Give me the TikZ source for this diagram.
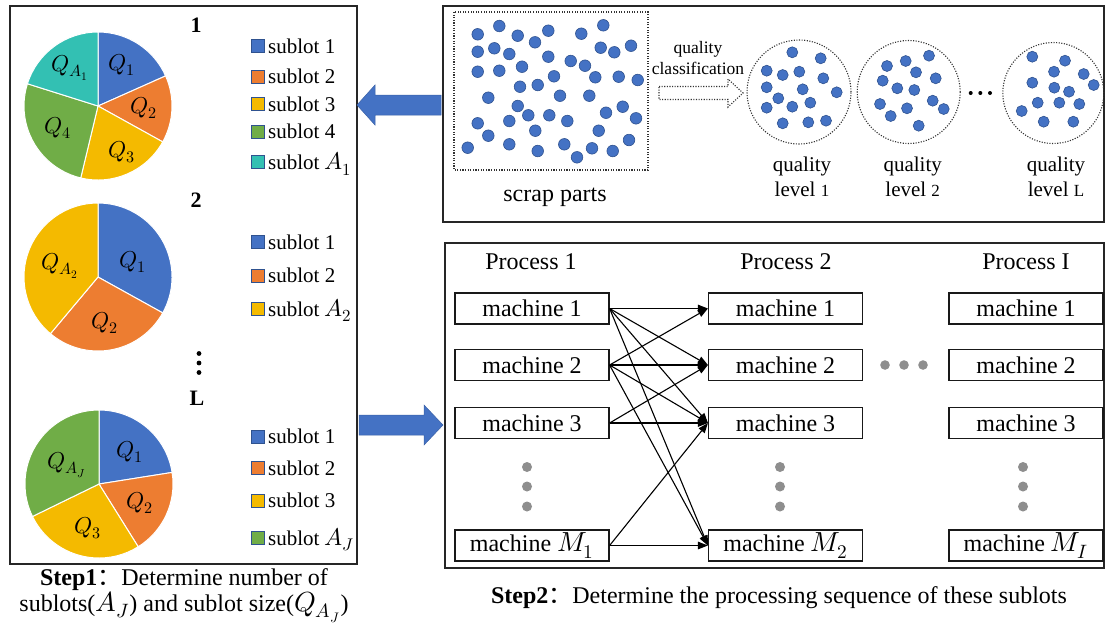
\documentclass[tikz,border=0pt]{standalone}
\usepackage{fontspec}
\usepackage{unicode-math}
\setmainfont{Liberation Serif}
\setmathfont{Latin Modern Math}[Scale=1.15]
\newfontfamily\cjk{Noto Sans CJK SC}
\usetikzlibrary{arrows.meta}

\definecolor{qblue}{HTML}{4472C4}
\definecolor{qorange}{HTML}{ED7D31}
\definecolor{qgold}{HTML}{F4BA00}
\definecolor{qgreen}{HTML}{70AD47}
\definecolor{qteal}{HTML}{33C0B3}
\definecolor{qedge}{HTML}{2F528F}
\definecolor{dotgray}{HTML}{8E8E8E}

\tikzset{
  panel/.style={draw=black!85, line width=1.4pt},
  slice/.style={draw=white, line width=1pt},
  key/.style={draw=qedge, line width=0.9pt, minimum size=13pt, inner sep=0pt},
  keytext/.style={anchor=base west, inner sep=0pt, font=\fontsize{21}{25}\selectfont},
  title/.style={inner sep=0pt, font=\fontsize{22}{26}\selectfont\bfseries},
  qlab/.style={inner sep=0pt, font=\fontsize{20}{24}\selectfont},
  part/.style={fill=qblue, draw=qedge, line width=0.6pt},
  ring/.style={draw=black!80, line width=1.1pt, dash pattern=on 1.1pt off 1.5pt},
  lvl/.style={inner sep=0pt, align=center, font=\fontsize{21}{25}\selectfont},
  machine/.style={draw=black!90, line width=1.2pt, minimum width=154pt, minimum height=31pt,
    inner sep=0pt, font=\fontsize{24}{28}\selectfont},
  header/.style={inner sep=0pt, font=\fontsize{24}{28}\selectfont},
  link/.style={line width=1.1pt, -{Triangle[length=10pt,width=7.5pt]}},
  vdot/.style={fill=dotgray},
  blockarrow/.style={fill=qblue, draw=qblue!85!black, line width=0.5pt},
  caption/.style={anchor=base, inner sep=0pt, font=\fontsize{24}{28}\selectfont},
}

\begin{document}
\begin{tikzpicture}[x=1pt, y=1pt]
\useasboundingbox (0,0) rectangle (1105,-625);

% ---------- left panel: sublot sizes per quality level ----------
\draw[panel] (10,-6) rectangle (357,-564);

% level 1
\node[title] (t1) at (196,-25) {1};
\foreach \a/\b/\c in {24/90/qblue, -29/24/qorange, -103.5/-29/qgold, 162.5/256.5/qgreen, 90/162.5/qteal}
  \filldraw[slice, fill=\c] (98,-106) -- ++(\a:74) arc[start angle=\a, end angle=\b, radius=74] -- cycle;
\node[qlab] (p1q1) at (122,-65) {$Q_1$};
\node[qlab] (p1q2) at (144,-108) {$Q_2$};
\node[qlab] (p1q3) at (122,-152) {$Q_3$};
\node[qlab] (p1q4) at (58,-128) {$Q_4$};
\node[qlab] (p1qa) at (70,-68) {$Q_{A_1}$};
\foreach \n/\y/\c/\t in {1/46.3/qblue/{sublot 1}, 2/76.7/qorange/{sublot 2}, 3/104.3/qgold/{sublot 3},
    4/131.7/qgreen/{sublot 4}, 5/162.3/qteal/{sublot $A_1$}} {
  \node[key, fill=\c] (k1\n) at (258,-\y) {};
  \node[keytext] (l1\n) at (268,-\y-7) {\t};
}

% level 2
\node[title] (t2) at (196,-200) {2};
\foreach \a/\b/\c in {-29/90/qblue, -130/-29/qorange, 90/230/qgold}
  \filldraw[slice, fill=\c] (98,-277) -- ++(\a:74) arc[start angle=\a, end angle=\b, radius=74] -- cycle;
\node[qlab] (p2q1) at (133,-262) {$Q_1$};
\node[qlab] (p2q2) at (105,-323) {$Q_2$};
\node[qlab] (p2qa) at (60,-266) {$Q_{A_2}$};
\foreach \n/\y/\c/\t in {1/242.3/qblue/{sublot 1}, 2/275.7/qorange/{sublot 2}, 3/309/qgold/{sublot $A_2$}} {
  \node[key, fill=\c] (k2\n) at (258,-\y) {};
  \node[keytext] (l2\n) at (268,-\y-7) {\t};
}

% vertical ellipsis
\foreach \y in {353.5, 363, 372.5}
  \fill (199,-\y) circle (2.4);

% level L
\node[title] (tL) at (197,-398) {L};
\foreach \a/\b/\c in {9/90/qblue, -58/9/qorange, -154/-58/qgold, 90/206/qgreen}
  \filldraw[slice, fill=\c] (99,-484) -- ++(\a:74) arc[start angle=\a, end angle=\b, radius=74] -- cycle;
\node[qlab] (p3q1) at (130,-452) {$Q_1$};
\node[qlab] (p3q2) at (140,-503) {$Q_2$};
\node[qlab] (p3q3) at (88,-528) {$Q_3$};
\node[qlab] (p3qa) at (67,-465) {$Q_{A_J}$};
\foreach \n/\y/\c/\t in {1/436.7/qblue/{sublot 1}, 2/468.3/qorange/{sublot 2}, 3/500.7/qgold/{sublot 3},
    4/538/qgreen/{sublot $A_J$}} {
  \node[key, fill=\c] (k3\n) at (258,-\y) {};
  \node[keytext] (l3\n) at (268,-\y-7) {\t};
}

\node[caption] (cap1a) at (184,-585) {\textbf{Step1}{\cjk ：}Determine number of};
\node[caption] (cap1b) at (184,-611) {sublots($A_J$) and sublot size($Q_{A_J}$)};

% ---------- block arrows between the panels ----------
\filldraw[blockarrow] (357,-105) -- (375,-85) -- (375,-95) -- (441,-95) -- (441,-115)
  -- (375,-115) -- (375,-125) -- cycle;
\filldraw[blockarrow] (359,-415) -- (424,-415) -- (424,-405) -- (443,-425) -- (424,-445)
  -- (424,-435) -- (359,-435) -- cycle;

% ---------- top right panel: quality classification ----------
\draw[panel] (443,-6) rectangle (1104,-222);
\draw[ring] (454,-12) rectangle (648,-170);
\foreach \x/\y in {477.7/34.3, 499.3/26, 517.7/35.7, 548.3/30.7, 581.3/33.7, 603.3/25.3,
    477.7/51.7, 494.3/48.3, 509.3/54, 535/42.3, 600.7/47.7, 614.3/52.3, 631/45.7,
    477.7/71.7, 499.3/70.7, 522/66.7, 548.3/56.7, 570.7/61, 585/65.7, 595.3/77.3, 618.7/76.7, 637.7/80,
    520/86.7, 537.7/85, 554/76.3, 488.3/97.7, 560/95.7, 589.3/95.7,
    517.7/106, 528.3/115.3, 549.3/115.3, 567.3/121, 606/112.7, 622.7/106.7, 636/118.3,
    477.7/123.3, 509.3/121, 535.3/130.7, 598.7/130.7,
    488.3/135.7, 467.7/147.7, 509.3/144.3, 537.7/151, 564.3/144.3, 577/157.3, 592/148.3, 612.7/151, 629/140}
  \filldraw[part] (\x,-\y) circle (5.8);
\node[inner sep=0pt, font=\fontsize{24}{28}\selectfont] (scrap) at (555,-197) {scrap parts};

\node[inner sep=0pt, align=center, font=\fontsize{17.5}{21}\selectfont] (qc) at (698,-58)
  {quality\\classification};
\draw[ring] (659,-86.5) -- (728,-86.5) -- (728,-79) -- (743,-93) -- (728,-107) -- (728,-99.5)
  -- (659,-99.5) -- cycle;

% quality levels
\draw[ring] (799,-92) circle (52);
\foreach \x/\y in {792.3/52.3, 820.7/58.3, 766.7/70.7, 782.7/75, 799.3/71.7, 823.3/78.3, 766.7/87.3,
    802.7/89.3, 836.7/92.3, 778.3/98.3, 792.3/106.7, 810.3/102.7, 766.7/107.7, 782.7/123.3,
    808.3/122.3, 826/120.7}
  \filldraw[part] (\x,-\y) circle (5.5);
\draw[ring] (908.7,-92) circle (51.5);
\foreach \x/\y in {929/55.7, 887/66, 905.7/61, 916/72.3, 935.7/78.3, 882.7/80.7, 897.3/88.3,
    914.3/90, 880/104, 907/108.3, 932.7/100.7, 943.7/109, 890.7/116, 918.7/125.7}
  \filldraw[part] (\x,-\y) circle (5.5);
\draw[ring] (1053.3,-93) circle (50.5);
\foreach \x/\y in {1032.3/56.7, 1065/60.7, 1054/71.7, 1083.7/74, 1093.7/85, 1032.3/82.7, 1054.3/87.7,
    1069/91.7, 1037.7/102.7, 1059.3/102.7, 1079.3/104, 1021.7/111, 1043.7/121.7, 1073.3/121.7}
  \filldraw[part] (\x,-\y) circle (5.5);
\foreach \x in {970.7, 980.3, 990}
  \fill (\x,-93) circle (2);

\node[lvl] (lv1) at (802,-177) {quality\\level {\fontsize{17}{20}\selectfont 1}};
\node[lvl] (lv2) at (912.7,-177) {quality\\level {\fontsize{17}{20}\selectfont 2}};
\node[lvl] (lvL) at (1056,-177) {quality\\level {\fontsize{17}{20}\selectfont L}};

% ---------- bottom right panel: machines in each process ----------
\draw[panel] (445,-243) rectangle (1104,-568);
\node[header] (h1) at (531,-262) {Process 1};
\node[header] (h2) at (786,-262) {Process 2};
\node[header] (h3) at (1026,-262) {Process I};

\foreach \c/\x/\s in {a/532/1, b/785.5/2, c/1026/I} {
  \node[machine] (\c1) at (\x,-308.5) {machine 1};
  \node[machine] (\c2) at (\x,-365) {machine 2};
  \node[machine] (\c3) at (\x,-423) {machine 3};
  \node[machine] (\c4) at (\x,-545.5) {machine $M_\s$};
}
\foreach \x in {527, 780, 1023}
  \foreach \y in {467, 486.5, 506.5}
    \fill[vdot] (\x,-\y) circle (5);
\foreach \x in {885, 904, 923}
  \fill[vdot] (\x,-365) circle (4.8);

\foreach \s/\t in {a1/b1, a1/b2, a1/b3, a1/b4, a2/b1, a2/b2, a2/b3, a2/b4,
    a3/b2, a3/b3, a4/b3, a4/b4}
  \draw[link] (\s.east) -- (\t.west);

\node[caption] (cap2) at (779,-603) {\textbf{Step2}{\cjk ：}Determine the processing sequence of these sublots};

\end{tikzpicture}
\end{document}
